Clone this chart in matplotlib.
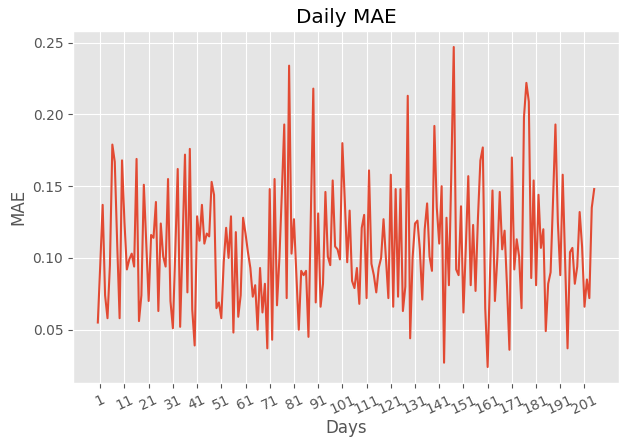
import matplotlib
matplotlib.use("Agg")
import matplotlib.pyplot as plt
import numpy as np

mae = [
    0.055, 0.095, 0.137, 0.074, 0.058, 0.095, 0.179, 0.167, 0.110, 0.058,
    0.168, 0.125, 0.092, 0.099, 0.103, 0.094, 0.169, 0.056, 0.074, 0.151,
    0.110, 0.070, 0.116, 0.114, 0.139, 0.063, 0.124, 0.101, 0.094, 0.155,
    0.070, 0.051, 0.105, 0.162, 0.052, 0.110, 0.172, 0.076, 0.176, 0.064,
    0.039, 0.129, 0.112, 0.137, 0.110, 0.117, 0.115, 0.153, 0.144, 0.065,
    0.069, 0.058, 0.097, 0.121, 0.100, 0.129, 0.048, 0.118, 0.059, 0.074,
    0.128, 0.117, 0.104, 0.093, 0.073, 0.081, 0.050, 0.093, 0.062, 0.082,
    0.037, 0.148, 0.043, 0.155, 0.067, 0.100, 0.145, 0.193, 0.072, 0.234,
    0.103, 0.127, 0.088, 0.050, 0.091, 0.088, 0.091, 0.045, 0.130, 0.218,
    0.069, 0.131, 0.066, 0.082, 0.146, 0.101, 0.095, 0.154, 0.108, 0.106,
    0.099, 0.180, 0.140, 0.097, 0.133, 0.084, 0.079, 0.093, 0.068, 0.121,
    0.130, 0.072, 0.161, 0.096, 0.088, 0.076, 0.093, 0.100, 0.127, 0.100,
    0.072, 0.158, 0.066, 0.148, 0.073, 0.148, 0.063, 0.080, 0.213, 0.044,
    0.100, 0.124, 0.126, 0.106, 0.071, 0.120, 0.138, 0.101, 0.091, 0.192,
    0.135, 0.110, 0.150, 0.027, 0.128, 0.081, 0.160, 0.247, 0.092, 0.088,
    0.136, 0.062, 0.108, 0.157, 0.081, 0.123, 0.077, 0.128, 0.168, 0.177,
    0.065, 0.024, 0.090, 0.147, 0.070, 0.100, 0.146, 0.106, 0.119, 0.080,
    0.036, 0.170, 0.092, 0.113, 0.101, 0.065, 0.198, 0.222, 0.209, 0.086,
    0.154, 0.081, 0.144, 0.107, 0.120, 0.049, 0.082, 0.090, 0.140, 0.193,
    0.125, 0.088, 0.158, 0.097, 0.037, 0.104, 0.107, 0.082, 0.094, 0.132,
    0.108, 0.066, 0.085, 0.072, 0.135, 0.148,
]
days = np.arange(len(mae))
tick_pos = list(range(1, len(mae), 10))
tick_labels = [str(t) for t in tick_pos]

plt.style.use("ggplot")
fig = plt.figure(figsize=(6.23, 4.41), dpi=100)
ax = fig.add_axes([73/623, 58/441, 546/623, 352/441])
ax.plot(days, mae, color="#E24A33", linewidth=1.5)
ax.set_xticks(tick_pos)
ax.set_xticklabels(tick_labels, rotation=25)
ax.set_title("Daily MAE")
ax.set_xlabel("Days", labelpad=2)
ax.set_ylabel("MAE")
fig.savefig("out.png", dpi=100)
